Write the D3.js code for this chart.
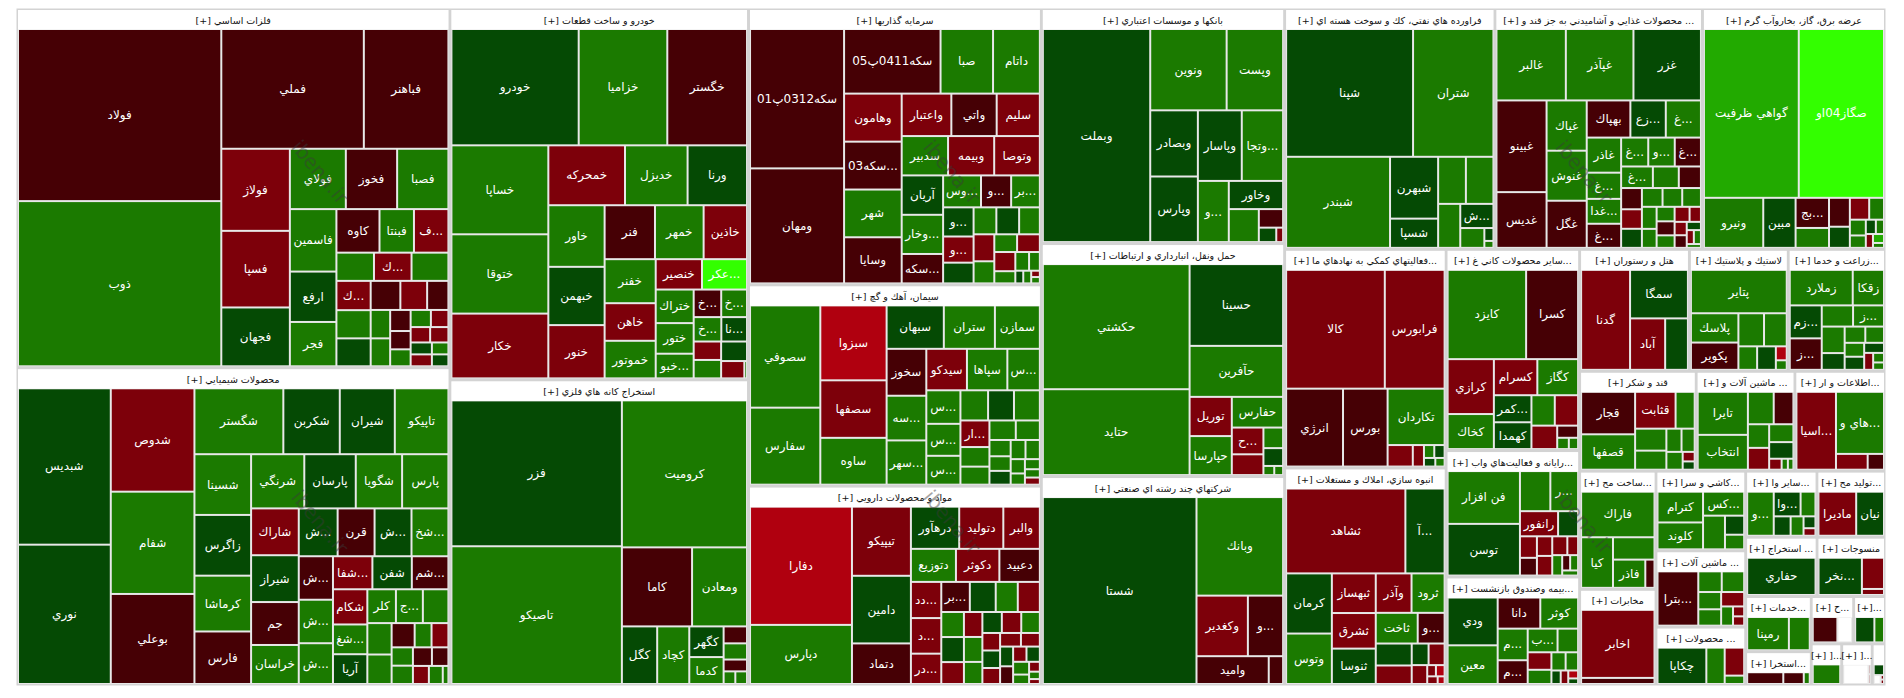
<!DOCTYPE html>
<html><head><meta charset="utf-8">
<script src="https://cdn.jsdelivr.net/npm/d3@7"></script>
<style>
body{margin:0;background:#fff;}
svg{display:block;}
text{font-family:"DejaVu Sans",sans-serif;}
</style>
</head><body>
<svg id="chart" width="1904" height="698"></svg>
<script>
// ---------------- DATA ----------------
const sectorNames = [
"فلزات اساسي [+]","محصولات شيميايي [+]","خودرو و ساخت قطعات [+]","استخراج كانه هاي فلزي [+]",
"سرمايه گذاريها [+]","سيمان، آهك و گچ [+]","مواد و محصولات دارويي [+]","بانكها و موسسات اعتباري [+]",
"حمل ونقل، انبارداري و ارتباطات [+]","شركتهاي چند رشته اي صنعتي [+]","فراورده هاي نفتي، كك و سوخت هسته اي [+]",
"... محصولات غذايي و آشاميدني به جز قند و [+]","عرضه برق، گاز، بخاروآب گرم [+]","...فعاليتهاي كمكي به نهادهاي ما [+]",
"انبوه سازي، املاك و مستغلات [+]","...ساير محصولات كاني غ [+]","...رايانه و فعاليت‌هاي واب [+]","...بيمه وصندوق بازنشست [+]",
"هتل و رستوران [+]","لاستيك و پلاستيك [+]","...زراعت و خدما [+]","قند و شكر [+]","... ماشين آلات و [+]",
"...اطلاعات و ار [+]","...ساخت مح [+]","مخابرات [+]","...كاشي و سرا [+]","... ماشين آلات [+]","... محصولات [+]",
"...ساير وا [+]","...توليد مح [+]","... استخراج [+]","منسوجات [+]","...خدمات [+]","...استخرا [+]","...ح [+]",
"...[+]","...[+]","...[+]",""
];

const n01 = ["فولاد","ذوب","فملي","فباهنر","فولاژ","فسپا","فجهان","فولاي","فخوز","فصبا","فاسمين","ارفع","فجر","كاوه","فبنتا","...ف","","","...ك","...ك","","","","","","","","...م","","","","","","","","","",""];
const v01 = [373,358,182,108,60,56,43,36,33,33,31,25,22,20,16,16,11.3,11.1,11.3,10.7,10.3,10.2,9.2,8.3,6.6,5.9,5.8,4.6,4.0,3.7,3.7,3.2,3.2,3.0,2.7,2.7,2.1,2.1];
const c01 = [-1,2.5,-1,-1,-2.5,-2.5,1,2.5,-1,2.5,2.5,1,2.5,-1,2.5,-2.5,2.5,2.5,-2.5,-2.5,2.5,1,-1,-2.5,-1,2.5,2.5,-1,-1,2.5,2.5,-2.5,-2.5,-2.5,1,-2.5,2.5,1];

const n02 = ["شبديس","نوري","شدوص","شفام","بوعلي","شگستر","شكربن","شيران","تاپيكو","شسينا","زاگرس","كرماشا","فارس","شرنگي","پارسان","شگويا","پارس","شاراك","شيراز","جم","خراسان","...شب","قرن","...ش","...شخا","...ش","...شپا","...ش","...شفار","شفن","...شم","شكام","...شغ","آريا","كلر","...ج","","","","","","","","","","","","",""];
const v02 = [156,139,93,92,81,63,40,39,38,37,37,34,32,31,30,27,27,24,24,22,20,20,19,19,19,16,16,15,14,14,13,13,11,11,10.4,9.8,9.3,8.2,7.7,6.0,4.4,4.4,4.2,4.2,3.8,3.3,3.1,2.7,1.1];
const c02 = [1,1,-2.5,2.5,-1,2.5,1,1,2.5,2.5,1,2.5,-1,2.5,1,2.5,2.5,-2.5,1,-1,2.5,1,-1,1,2.5,-1,2.5,2.5,-2.5,1,-1,-2.5,2.5,1,2.5,2.5,2.5,2.5,2.5,-1,2.5,-2.5,2.5,2.5,-1,-1,-2.5,2.5,2.5];

const n03 = ["خودرو","خزاميا","خگستر","خساپا","ختوقا","خكار","خمحركه","خديزل","ورنا","خاور","خبهمن","خنور","فنر","خمهر","خاذين","خفنر","خاهن","خموتور","خنصير","...عكرما","ختراك","ختور","...خبو","...خ","خزر","...خ","...نا","","","","",""];
const v03 = [158,110,99,92,82,67,49,40,38,37,35,32,29,28,25,24,20.5,20.5,15,14.6,13.6,12.4,10,8.1,7.6,7.2,6.7,5.4,5.4,5.4,4.3,0.5];
const c03 = [1,2.5,-1,2.5,2.5,-2.5,-2.5,2.5,1,2.5,1,-2.5,-1,2.5,-2.5,2.5,-2.5,2.5,-2.5,6,2.5,2.5,2.5,-1,2.5,2.5,1,-2.5,2.5,1,-2.5,2.5];

const n04 = ["فزر","تاصيكو","كروميت","كاما","ومعادن","كگل","كچاد","كگهر","كدما","","","","",""];
const v04 = [269,254,199,60,47,22,20,11.4,10,4.3,4.1,3.0,1.6,1.6];
const c04 = [1,2.5,2.5,-1,2.5,1,2.5,1,2.5,-1,2.5,-1,2.5,2.5];

const n05 = ["سكه0312پ01","ومهان","سكه0411پ05","صبا","داتام","وهامون","...سكه03","شهر","وسايا","واعتبار","واتي","سليم","سدبير","وبيمه","وتوصا","آريان","وخارزم","...سكه","...وسپه","...و","...برد","...و","...و","","","","","","","","","","","","","","","",""];
const v05 = [143,118,68,37,33,30.2,30.1,30,29,23,21,20,19.9,19.8,19.6,17.8,17.7,13.3,13.2,10.5,10,9.7,8.7,6.9,6.7,6.7,6.1,6.1,5.0,4.4,4.4,4.4,2.8,2.8,2.2,1.1,1.1,0.6,0.6];
const c05 = [-1,-1,-1,2.5,2.5,-2.5,-1,2.5,-1,-2.5,-1,-2.5,2.5,-2.5,-2.5,1,2.5,-1,2.5,-1,2.5,1,-2.5,1,2.5,1,2.5,-2.5,2.5,2.5,-2.5,-2.5,2.5,2.5,2.5,1,2.5,-2.5,2.5];

const n06 = ["سصوفي","سفارس","سبزوا","سصفها","ساوه","سبهان","ستران","سمازن","سخوز","...سه","...سهر","سيدكو","سپاها","...س","...س","...س","...سر","","","","...ار","","","","","","","","","","","","","",""];
const v06 = [81,61,56,43,35,28,25,22,21,20,19.8,19.0,18.9,15.2,12.9,12.3,11.1,9.4,8.8,8.8,8.7,6.4,5.9,5.8,5.3,3.9,3.5,3.3,3.2,3.1,2.3,1.8,1.7,1.4,1.2];
const c06 = [2.5,2.5,-4,-2.5,2.5,1,2.5,2.5,-1,2.5,2.5,-2.5,2.5,2.5,2.5,2.5,2.5,2.5,1,2.5,-2.5,2.5,2.5,2.5,2.5,2.5,2.5,1,2.5,2.5,2.5,2.5,2.5,2.5,-2.5];

const n07 = ["دفارا","دپارس","تيپيكو","دامين","دتماد","درهآور","دتوليد","والبر","دتوزيع","دكوثر","دعبيد","...دد","...د","...در","...بر","","","","...ه","...ر","","","","","","","","","","","","","","","","","","","","",""];
const v07 = [136,68,46,45,27,23,21,17.4,16.8,16.2,15.1,12.4,12.2,10.4,9.7,8.8,7.5,7.5,6.4,6.4,5.6,5.2,5.2,4.6,4.6,4.6,4.4,3.5,3.5,3.2,3.2,2.9,2.9,2.6,2.3,2.3,2.3,1.7,1.2,0.9,0.6];
const c07 = [-4,2.5,-2.5,1,-1,1,-2.5,-2.5,2.5,-2.5,-1,-2.5,-2.5,-2.5,-1,1,2.5,-2.5,2.5,1,-2.5,-2.5,2.5,2.5,1,-2.5,2.5,-2.5,1,-2.5,-2.5,-2.5,1,-1,-2.5,1,2.5,2.5,-2.5,2.5,-2.5];

const n08 = ["وبملت","ونوين","وپست","وبصادر","وپارس","وپاسار","...وتجا","وگردش","وخاور","","","",""];
const v08 = [254,69,51,35,34.7,34.4,32.4,21,17,11,5,2.8,1.1];
const c08 = [1,2.5,2.5,1,1,1,2.5,2.5,1,2.5,-1,1,-2.5];

const n09 = ["حكشتي","حتايد","حسينا","حآفرين","توريل","حپارسا","حفارس","...ح","","","","",""];
const v09 = [204,140,85,53,18.4,18.3,17.5,9.4,7.3,4.5,3.9,1.1,0.9];
const c09 = [2.5,2.5,1,2.5,-2.5,2.5,2.5,-2.5,-2.5,2.5,1,2.5,2.5];

const n10 = ["شستا","وبانك","وكغدير","...و","واميد",""];
const v10 = [323,96,35,24,22.6,4.5];
const c10 = [1,2.5,-2.5,-1,-1,-1];

const n11 = ["شپنا","شتران","شبندر","شبهرن","شسپا","","","","...شرا","","",""];
const v11 = [180,114,105,33,15.6,14.5,14.4,10.8,8.9,5.3,1.3,0.7];
const c11 = [1,2.5,2.5,1,1,2.5,2.5,2.5,1,2.5,1,2.5];

const n12 = ["غالبر","غپآذر","غزر","غبينو","غديس","غپاك","غنوش","غگل","بهپاك","...زع","...غ","غاذر","...غ","...غدا","...غ","...غ","...و","...غ","...غ","","","","","","","","","","","","","","","","","","","","",""];
const v12 = [55,53.6,53.5,51,31,22.4,22.3,21,18,14.6,14.5,13.4,10,9.5,9.2,8.7,8.5,8.4,7.6,6.2,5.3,4.9,4.5,4.4,4.3,4.1,3.9,3.6,3.1,2.9,2.8,2.5,2.5,1.9,1.8,1.7,1.3,1.1,1.1,0.6];
const c12 = [2.5,2.5,1,-1,-1,2.5,2.5,-1,-1,1,2.5,2.5,2.5,2.5,-1,2.5,2.5,-1,2.5,2.5,-1,-1,-2.5,1,2.5,2.5,2.5,2.5,2.5,2.5,-1,2.5,-2.5,-2.5,-2.5,-1,1,-2.5,2.5,2.5];

const n13 = ["گواهي ظرفيت","صگاز04او","ونيرو","مبين","...بج","","","","","","","","","","","",""];
const v13 = [178,160,33,18,11.2,7.4,6.7,4.9,4.7,3.6,2.8,2.2,1.6,1.3,1.1,1.1,0.6];
const c13 = [4,6,2.5,1,-1,2.5,-1,1,-2.5,2.5,2.5,2.5,1,2.5,-2.5,4,2.5];

const n14 = ["كالا","فرابورس","انرژي","بورس","تكاردان","","","","","",""];
const v14 = [132,80,49.9,39.1,36.2,6.1,2.7,1.5,1.5,1.1,0.9];
const c14 = [-2.5,-2.5,-1,-1,2.5,-2.5,-2.5,2.5,1,1,2.5];

const n15 = ["ثشاهد","...آ س","كرمان","وتوس","ثبهساز","ثشرق","ثنوسا","وآذر","ثرود","ثاخت","...و","","","","","","","","",""];
const v15 = [114,37.5,31,26,19.6,17.6,17.5,15.9,14.7,14.5,9.3,8.9,7.5,4.1,3.9,3.3,1.1,1.1,0.9,0.6];
const c15 = [-2.5,1,1,2.5,-2.5,-2.5,1,-2.5,2.5,2.5,-1,1,-2.5,1,-2.5,-2.5,-2.5,-4,-2.5,-4];

const n16 = ["كايزد","كسرا","كرازي","كخاك","كسرام","كگاز","...كمر","كهمدا","","","","","",""];
const v16 = [80,53,29,18.5,17.9,16.8,11.6,11.5,8.1,8.1,6.9,2.9,1.5,1.2];
const c16 = [2.5,-1,-2.5,2.5,-2.5,2.5,1,1,2.5,-2.5,-2.5,-1,2.5,2.5];

const n17 = ["فن افزار","توسن","","...ر","رانفور","","","","","","","","","","",""];
const v17 = [47,46,15,13.7,11.8,6.2,4.5,3.7,3.7,3.7,3.5,2.5,2.5,1.5,1.5,1.0];
const c17 = [2.5,1,2.5,2.5,-2.5,1,-2.5,-1,-2.5,-2.5,-2.5,-2.5,2.5,-1,2.5,2.5];

const n18 = ["ودي","معين","دانا","كوثر","...م","...م","...ب","","","","","","","","",""];
const v18 = [30.5,24.7,16.9,15,12.1,9.1,9,6.2,5.3,4.3,3.3,2.9,1.6,1.3,1.0,0.7];
const c18 = [1,2.5,-1,2.5,2.5,-1,2.5,2.5,-2.5,2.5,2.5,2.5,1,-2.5,-4,1];

const n19 = ["گدنا","سمگا","آباد",""];
const v19 = [61,35,22.5,14.6];
const c19 = [-2.5,1,-2.5,1];

const n20 = ["پتاير","پلاسك","پكوير","","","","","",""];
const v20 = [52,17.4,16.2,10.6,9.4,5.5,5.5,1.9,1.3];
const c20 = [2.5,2.5,-1,2.5,2.5,2.5,1,-4,2.5];

const n21 = ["زملارد","زقكا","...زم","...ز","","...ز","","","","","","","","","",""];
const v21 = [28,13.9,13.2,12.6,8.3,8.2,7.6,4.8,4.2,3.8,3.4,3.2,2.5,1.9,1.3,1.0];
const c21 = [2.5,2.5,1,-1,2.5,2.5,2.5,1,2.5,2.5,2.5,1,1,-2.5,2.5,2.5];

const n22 = ["قجار","قصفها","قثابت","","","","","","","",""];
const v22 = [30,25,19.5,9.2,9.0,7.8,4.6,4.0,3.8,1.5,1.3];
const c22 = [-1,2.5,-2.5,2.5,2.5,2.5,2.5,2.5,2.5,-2.5,1];

const n23 = ["تايرا","انتخاب","","","","","","","","",""];
const v23 = [28.4,23,11,8.4,6.6,6.1,5.7,5.3,1.8,0.9,0.8];
const c23 = [2.5,2.5,2.5,-1,2.5,-2.5,2.5,1,-2.5,2.5,2.5];

const n24 = ["...اسيا","...هاي و","",""];
const v24 = [40.6,39.3,6.6,3.4];
const c24 = [-2.5,2.5,-2.5,-1];

const n25 = ["فاراك","كيا","","فاذر",""];
const v25 = [42.5,20.5,11.8,11.6,3.3];
const c25 = [2.5,2.5,2.5,2.5,-1];

const n26 = ["اخابر",""];
const v26 = [67,6];
const c26 = [-2.5,-1];

const n27 = ["كترام","كلوند","...كس","","",""];
const v27 = [19.9,17.4,14.0,10.5,5.2,4.0];
const c27 = [2.5,2.5,2.5,2.5,1,2.5];

const n28 = ["...بترا","","","","","","","",""];
const v28 = [32,7.0,6.7,5.7,5.4,4.8,3.3,1.6,1.5];
const c28 = [-1,2.5,2.5,2.5,2.5,-2.5,2.5,-2.5,-2.5];

const n29 = ["چكاپا","","",""];
const v29 = [29.3,11,9,2.7];
const c29 = [1,2.5,-2.5,2.5];

const n30 = ["...و","...وا","","","","",""];
const v30 = [18.2,10.3,5.7,5.1,3.9,2.2,1.4];
const c30 = [2.5,1,2.5,1,2.5,1,-2.5];

const n31 = ["ماديرا","نيان"];
const v31 = [25.9,19.1];
const c31 = [-2.5,1];

const n32 = ["حفاري"];
const v32 = [42];
const c32 = [1];

const n33 = ["...نخري","",""];
const v33 = [26.7,11.4,2.2];
const c33 = [1,-2.5,-2.5];

const n34 = ["رمپنا",""];
const v34 = [24,12];
const c34 = [2.5,2.5];

const n35 = ["","",""];
const v35 = [12.7,7.2,2.1];
const c35 = [-1,-1,2.5];

const n36 = ["حخزر",""];
const v36 = [12.5,7.5];
const c36 = [-1,0];

const n37 = ["",""];
const v37 = [10,5];
const c37 = [1,2.5];

const n38 = [""];
const v38 = [12.6];
const c38 = [2.5];

const n39 = ["","",""];
const v39 = [11.6,0.5,0.5];
const c39 = [0,-2.5,-2.5];

const n40 = ["","","",""];
const v40 = [3.0,1.7,0.4,0.4];
const c40 = [1,0,-2.5,-2.5];

const stockNames = [n01,n02,n03,n04,n05,n06,n07,n08,n09,n10,n11,n12,n13,n14,n15,n16,n17,n18,n19,n20,n21,n22,n23,n24,n25,n26,n27,n28,n29,n30,n31,n32,n33,n34,n35,n36,n37,n38,n39,n40];
const stockValues = [v01,v02,v03,v04,v05,v06,v07,v08,v09,v10,v11,v12,v13,v14,v15,v16,v17,v18,v19,v20,v21,v22,v23,v24,v25,v26,v27,v28,v29,v30,v31,v32,v33,v34,v35,v36,v37,v38,v39,v40];
const stockChanges = [c01,c02,c03,c04,c05,c06,c07,c08,c09,c10,c11,c12,c13,c14,c15,c16,c17,c18,c19,c20,c21,c22,c23,c24,c25,c26,c27,c28,c29,c30,c31,c32,c33,c34,c35,c36,c37,c38,c39,c40];

const changeThresholds = [-3,-1.5,-0.01,0.01,1.5,3,5];
const changeColors = ["#b0000f","#7d000a","#460005","#ffffff","#054a04","#1b7a00","#22aa00","#33ff00"];

// ---------------- LAYOUT ----------------
const chartX = 18, chartY = 10, chartW = 1866, chartH = 674;
const color = d3.scaleThreshold().domain(changeThresholds).range(changeColors);

const tree = {name:"root", children: sectorNames.map((s,i)=>({
  name:s,
  children: stockNames[i].map((n,j)=>({name:n, value:stockValues[i][j], change:stockChanges[i][j]}))
}))};

const root = d3.hierarchy(tree).sum(d => d.value || 0).sort((a,b) => b.value - a.value);

d3.treemap()
  .tile(d3.treemapSquarify.ratio(1))
  .size([chartW, chartH])
  .paddingInner(d => d.depth === 0 ? 3 : 2)
  .paddingTop(d => d.depth === 1 ? 20 : 0)
  .paddingLeft(d => d.depth === 1 ? 1 : 0)
  .paddingRight(d => d.depth === 1 ? 1 : 0)
  .paddingBottom(d => d.depth === 1 ? 1 : 0)(root);

const svg = d3.select("#chart");
const g = svg.append("g").attr("transform", `translate(${chartX},${chartY})`);

g.append("rect").attr("x",-1.5).attr("y",-1.5).attr("width",chartW+3).attr("height",chartH+3).attr("fill","#d3d3d3");

const sec = g.selectAll("g.sector").data(root.children).join("g").attr("class","sector");
sec.append("rect").attr("x",d=>d.x0).attr("y",d=>d.y0).attr("width",d=>Math.max(0,d.x1-d.x0)).attr("height",d=>Math.max(0,d.y1-d.y0)).attr("fill","#e8e8e8");
sec.append("rect").attr("x",d=>d.x0).attr("y",d=>d.y0).attr("width",d=>Math.max(0,d.x1-d.x0)).attr("height",19.5).attr("fill","#ffffff");

function fitText(sel, full, maxW, suffix, keepLast) {
  const node = sel.node();
  sel.text(full);
  if (node.getComputedTextLength() <= maxW) return;
  let core = full;
  if (suffix && core.endsWith(suffix)) core = core.slice(0, -suffix.length);
  core = core.replace(/^\.\.\.\s?/, "");
  let last = "..." + core + (suffix || "");
  while (core.length > 1) {
    core = core.slice(0, -1);
    last = "..." + core + (suffix || "");
    sel.text(last);
    if (node.getComputedTextLength() <= maxW) return;
  }
  sel.text(keepLast ? last : "");
}

sec.each(function(d){
  if (!d.data.name) return;
  const t = d3.select(this).append("text")
    .attr("x", (d.x0+d.x1)/2).attr("y", d.y0+10)
    .attr("text-anchor","middle").attr("dominant-baseline","central")
    .attr("font-size","9.5px").attr("fill","#111")
    .style("direction","rtl");
  fitText(t, d.data.name, d.x1-d.x0-4, " [+]", true);
});

const leaves = root.leaves();
const lg = g.selectAll("g.leaf").data(leaves).join("g").attr("class","leaf");
lg.append("rect").attr("x",d=>d.x0).attr("y",d=>d.y0)
  .attr("width",d=>Math.max(0,d.x1-d.x0)).attr("height",d=>Math.max(0,d.y1-d.y0))
  .attr("fill",d=>color(d.data.change));
lg.each(function(d){
  const w = d.x1-d.x0, h = d.y1-d.y0;
  if (!d.data.name || w < 22 || h < 14) return;
  const t = d3.select(this).append("text")
    .attr("x",(d.x0+d.x1)/2).attr("y",(d.y0+d.y1)/2)
    .attr("text-anchor","middle").attr("dominant-baseline","central")
    .attr("font-size","12px").attr("fill","#ffffff")
    .style("direction","rtl");
  fitText(t, d.data.name, w-4, "", false);
});

// watermark
const wmCols = [0,1,2], wmRows = [0,1];
wmCols.forEach(i => wmRows.forEach(j => {
  svg.append("text")
    .attr("transform",`translate(${320+i*632},${172+j*350}) rotate(50)`)
    .attr("text-anchor","middle").attr("dominant-baseline","central")
    .attr("font-size","20px").attr("fill","#3a3a3a").attr("opacity",0.45)
    .text("ibena.ir");
}));
</script>
</body></html>
